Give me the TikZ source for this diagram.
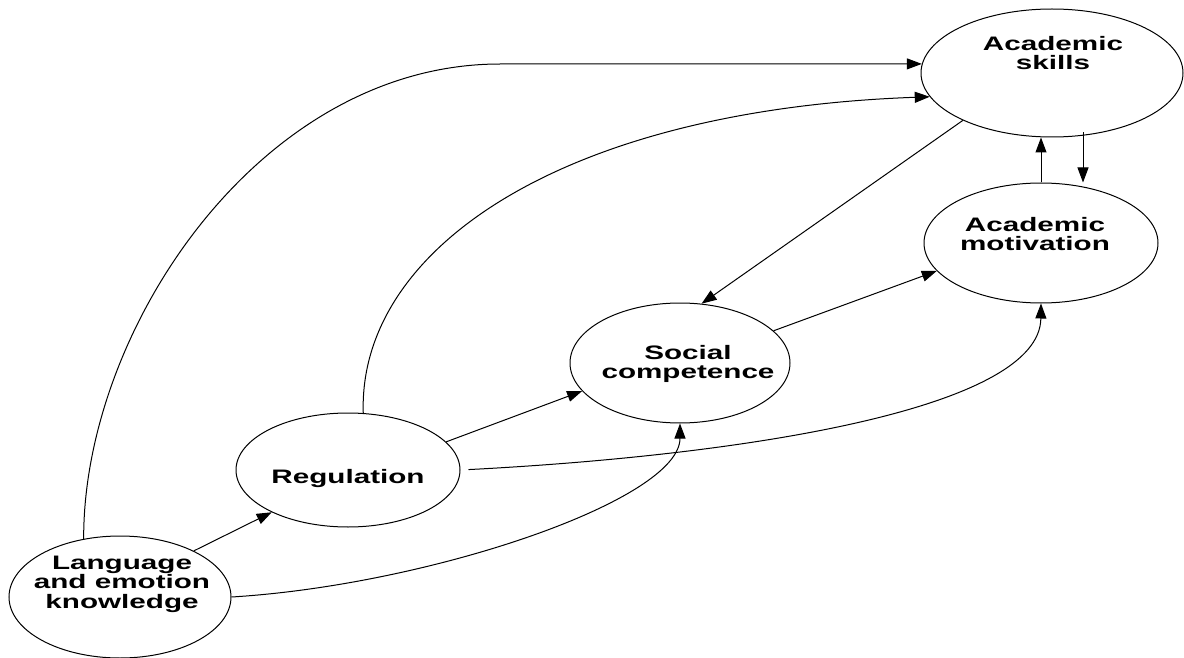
\documentclass[tikz,border=0pt]{standalone}
\usepackage{fontspec}
\setmainfont{Liberation Sans}[FakeStretch=1.52]
\usetikzlibrary{shapes.geometric,arrows.meta}

\begin{document}
\begin{tikzpicture}[x=1pt,y=-1pt,line width=1pt,
  >={Triangle[length=15pt,width=11pt]},
  oval/.style={draw,ellipse,inner sep=0pt},
  lbl/.style={align=center,inner sep=0pt,font=\fontsize{19.5}{19.5}\selectfont\bfseries}]
  \useasboundingbox (0,0) rectangle (1184,658);
  % the five ovals
  \node[oval,minimum width=262pt,minimum height=128pt] (skills) at (1052,73) {};
  \node[oval,minimum width=234pt,minimum height=120pt] (motiv) at (1041,243) {};
  \node[oval,minimum width=220pt,minimum height=120pt] (social) at (680,363) {};
  \node[oval,minimum width=224pt,minimum height=114pt] (reg) at (348,470) {};
  \node[oval,minimum width=222pt,minimum height=122pt] (lang) at (120,597) {};
  % their texts
  \node[lbl] (skillsT) at (1053,53) {Academic\\skills};
  \node[lbl] (motivT) at (1035,234) {Academic\\motivation};
  \node[lbl] (socialT) at (688,364) {Social\\competence};
  \node[lbl] (regT) at (348,478) {Regulation};
  \node[lbl] (langT) at (122,584) {Language\\and emotion\\knowledge};
  % paths
  \draw[->] (lang.122) .. controls (83,330) and (260,64) .. (500,64) -- (skills.176);
  \draw[->] (reg.75) .. controls (358,250) and (560,110) .. (skills.191);
  \draw[->] (skills.208) -- (social.70);
  \draw[->] (social.19) -- (motiv.195);
  \draw[->] (reg.16) -- (social.196);
  \draw[->,shorten <=8pt] (reg.0) .. controls (750,455) and (1040,408) .. (motiv.-90);
  \draw[->] (lang.0) .. controls (430,585) and (680,500) .. (social.-90);
  \draw[->] (lang.32) -- (reg.209);
  \draw[->] (motiv.north) -- (motiv.north |- skills.south);
  \coordinate (down) at ([xshift=31pt,yshift=5pt]skills.south);
  \draw[->] (down) -- (down |- motiv.north);
\end{tikzpicture}
\end{document}
